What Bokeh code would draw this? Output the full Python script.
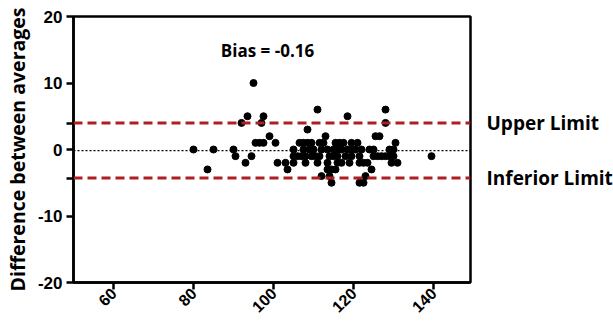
import math
from bokeh.plotting import figure
from bokeh.models import Span, Label, FixedTicker, Range1d, LinearAxis
from bokeh.embed import file_html
from bokeh.resources import INLINE

# ---- data ----
averages = [80, 83.5, 85, 90, 90.5, 92, 93, 93.5, 94.5, 95, 95.5, 96.5,
            97.5, 97, 97.5, 99, 100.5, 101, 103, 103.5, 105, 105, 105,
            111, 118.5, 108.5, 113,
            106.5, 107.5, 108.5, 109.5, 111.5, 112.5, 115.5, 116.5, 117.5,
            107.5, 109, 110, 112, 113.5, 115, 116, 117,
            106, 107, 108, 109.5, 110.5, 111.5, 114, 115, 116, 118,
            108, 111, 113.5, 116, 117,
            113.5, 114.5, 115.5,
            112, 114,
            114.5,
            128, 128, 125.5, 126.5,
            119.5, 121, 130.5,
            118.5, 119.5, 120.5, 122, 124, 125, 129, 130,
            119.5, 121.5, 125, 126, 127, 128, 129, 130,
            119, 121.5, 122.5, 123.5, 129.5, 131,
            124.5, 123, 121.5, 122.5, 139.5]
differences = [0, -3, 0, 0, -1, 4, -2, 5, -1, 10, 1, 1,
               1, 4, 5, 2, 1, -2, -2, -3, -2, 0, -1,
               6, 5, 3, 2,
               1, 1, 1, 1, 1, 1, 1, 1, 1,
               0, 0, 0, 0, 0, 0, 0, 0,
               -1, -1, -1, -1, -1, -1, -1, -1, -1, -1,
               -2, -2, -2, -2, -2,
               -3, -3, -3,
               -4, -4,
               -5,
               6, 4, 2, 2,
               1, 1, 1,
               0, 0, 0, 0, 0, 0, 0, 0,
               -1, -1, -1, -1, -1, -1, -1, -1,
               -2, -2, -2, -2, -2, -2,
               -3, -4, -5, -5, -1]

bias = -0.16
upper_limit = 3.98
lower_limit = -4.30

x_ticks = [60, 80, 100, 120, 140]
y_ticks = [-20, -10, 0, 10, 20]
y_tick_labels = ["-20", "-10", "0", "10", "20"]

bias_text = "Bias = -0.16"
upper_text = "Upper Limit"
lower_text = "Inferior Limit"
y_title = "Difference between averages"

# ---- figure ----
p = figure(frame_width=397, frame_height=266, output_backend="svg",
           toolbar_location=None,
           x_range=Range1d(50, 149.25), y_range=Range1d(-20, 20),
           min_border_left=66, min_border_right=5, min_border_top=16,
           min_border_bottom=5)
p.grid.visible = False
p.background_fill_color = "white"
p.border_fill_color = "white"
p.outline_line_color = "black"
p.outline_line_width = 2.5

# spans
p.add_layout(Span(location=upper_limit, dimension="width", line_color="#B01E23",
                  line_width=3, line_dash="9 5"))
p.add_layout(Span(location=lower_limit, dimension="width", line_color="#B01E23",
                  line_width=3, line_dash="9 5"))
p.add_layout(Span(location=bias, dimension="width", line_color="black",
                  line_width=1.2, line_dash="2 2"))

p.scatter(averages, differences, size=7, color="black")

# axes
for ax in (p.xaxis[0], p.yaxis[0]):
    ax.axis_line_width = 2.5
    ax.major_tick_line_width = 2.5
    ax.major_tick_out = 7
    ax.major_tick_in = 0
    ax.minor_tick_line_color = None
    ax.major_label_text_font = "Liberation Sans"
    ax.major_label_text_font_style = "bold"
    ax.major_label_text_font_size = "17px"
    ax.major_label_text_color = "black"

p.xaxis.ticker = FixedTicker(ticks=x_ticks)
p.xaxis.major_label_orientation = math.pi / 4
p.xaxis.major_label_standoff = 1
p.xaxis.major_label_text_font_size = "16px"

p.yaxis.ticker = FixedTicker(ticks=y_ticks + [upper_limit, lower_limit])
overrides = {t: s for t, s in zip(y_ticks, y_tick_labels)}
overrides[upper_limit] = ""
overrides[lower_limit] = ""
p.yaxis.major_label_overrides = overrides
p.yaxis.major_label_standoff = 4
p.yaxis.axis_label = y_title
p.yaxis.axis_label_text_font = "Open Sans"
p.yaxis.axis_label_text_font_style = "bold"
p.yaxis.axis_label_text_font_size = "19.5px"
p.yaxis.axis_label_text_color = "black"
p.yaxis.axis_label_standoff = 4

# right side labels for the limits
right = LinearAxis(ticker=FixedTicker(ticks=[upper_limit, lower_limit]),
                   major_label_overrides={upper_limit: upper_text,
                                          lower_limit: lower_text})
right.axis_line_color = None
right.major_tick_line_color = None
right.minor_tick_line_color = None
right.major_tick_out = 0
right.major_tick_in = 0
right.major_label_standoff = 16
right.major_label_text_font = "Open Sans"
right.major_label_text_font_style = "bold"
right.major_label_text_font_size = "19px"
right.major_label_text_color = "black"
p.add_layout(right, "right")

# bias annotation
p.add_layout(Label(x=98.5, y=14.9, text=bias_text, text_font="Open Sans",
                   text_font_style="bold", text_font_size="17px",
                   text_color="black",
                   text_align="center", text_baseline="middle"))

open("out.html", "w").write(file_html(p, INLINE))
